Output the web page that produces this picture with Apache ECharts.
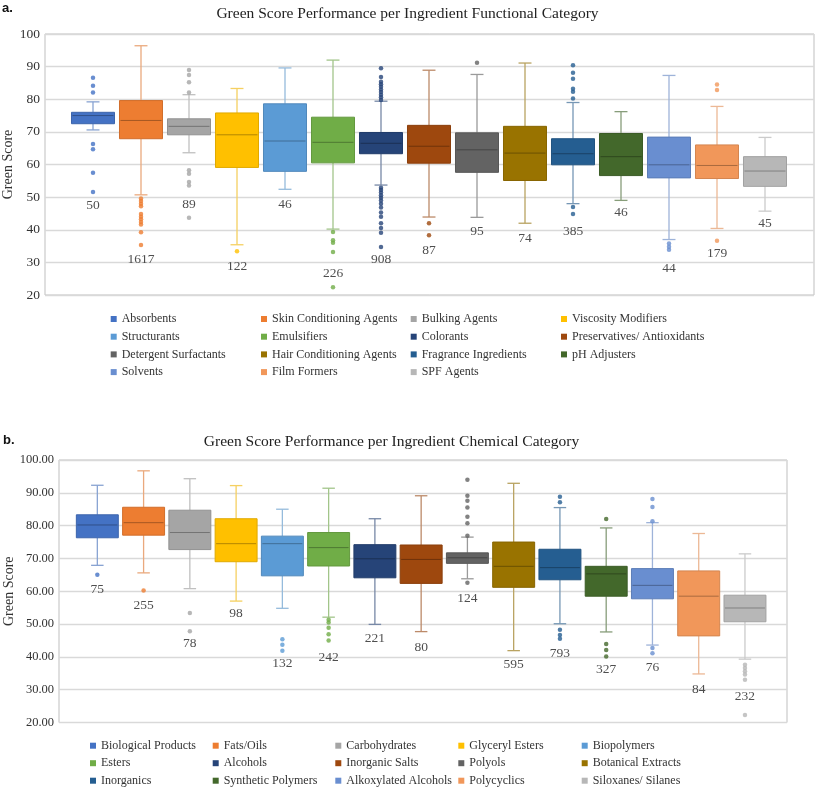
<!DOCTYPE html>
<html><head><meta charset="utf-8">
<script src="https://cdn.jsdelivr.net/npm/echarts@6/dist/echarts.min.js"></script>
<style>html,body{margin:0;padding:0;background:#fff}#c{width:817px;height:789px}</style>
</head><body><div id="c"></div>
<script>
// ---------- DATA ----------
const palette = ['#4472C4','#ED7D31','#A5A5A5','#FFC000','#5B9BD5','#70AD47','#264478','#9E480E','#636363','#997300','#255E91','#43682B','#698ED0','#F1975A','#B7B7B7'];

// Panel a: functional categories
const funcCategories = ['Absorbents','Skin Conditioning Agents','Bulking Agents','Viscosity Modifiers','Structurants','Emulsifiers','Colorants','Preservatives/ Antioxidants','Detergent Surfactants','Hair Conditioning Agents','Fragrance Ingredients','pH Adjusters','Solvents','Film Formers','SPF Agents'];
// [lower whisker, Q1, median, Q3, upper whisker]
const funcStats = [
  [70.6, 72.5, 75.0, 76.0, 79.2],
  [50.7, 67.9, 73.5, 79.6, 96.4],
  [63.6, 69.1, 71.7, 74.0, 81.4],
  [35.4, 59.1, 69.1, 75.8, 83.3],
  [52.4, 57.9, 67.2, 78.6, 89.6],
  [40.2, 60.5, 66.8, 74.5, 92.0],
  [53.7, 63.3, 66.5, 69.8, 79.4],
  [43.9, 60.4, 65.6, 72.0, 88.9],
  [43.8, 57.6, 64.5, 69.7, 87.6],
  [42.0, 55.1, 63.5, 71.7, 91.1],
  [48.0, 59.9, 63.3, 67.9, 79.0],
  [49.0, 56.6, 62.4, 69.5, 76.2],
  [37.0, 55.9, 59.9, 68.4, 87.3],
  [40.4, 55.7, 59.7, 66.0, 77.8],
  [45.7, 53.3, 58.0, 62.4, 68.3]
];
const funcOutliers = [
  [86.6, 84.1, 82.1, 66.3, 64.7, 57.5, 51.6],
  [49.6, 48.8, 48.0, 47.2, 44.8, 44.0, 43.2, 42.4, 41.6, 39.2, 35.3],
  [89.0, 87.4, 85.2, 82.1, 58.2, 57.2, 54.6, 53.6, 43.7],
  [33.4],
  [],
  [39.3, 36.8, 36.0, 33.2, 22.4],
  [89.5, 86.8, 85.4, 84.6, 83.8, 83.0, 82.2, 81.4, 80.6, 79.8, 52.9, 52.2, 51.4, 50.6, 49.8, 49.0, 48.0, 46.8, 45.3, 44.0, 42.0, 40.5, 39.1, 34.7],
  [42.0, 38.3],
  [91.2],
  [],
  [90.4, 88.1, 86.3, 83.2, 82.3, 80.2, 47.0, 44.8],
  [],
  [35.8, 34.8, 33.9],
  [84.5, 82.8, 36.6],
  []
];
const funcCounts = [50, 1617, 89, 122, 46, 226, 908, 87, 95, 74, 385, 46, 44, 179, 45];
const funcCountLabelY = [47.3, 30.9, 47.9, 28.8, 47.9, 26.7, 30.9, 33.8, 39.6, 37.4, 39.6, 45.4, 28.0, 32.7, 42.0];

// Panel b: chemical categories
const chemCategories = ['Biological Products','Fats/Oils','Carbohydrates','Glyceryl Esters','Biopolymers','Esters','Alcohols','Inorganic Salts','Polyols','Botanical Extracts','Inorganics','Synthetic Polymers','Alkoxylated Alcohols','Polycyclics','Siloxanes/ Silanes'];
const chemStats = [
  [67.9, 76.3, 80.2, 83.3, 92.3],
  [65.6, 77.1, 80.9, 85.6, 96.7],
  [60.8, 72.7, 77.9, 84.7, 94.3],
  [57.0, 69.0, 74.5, 82.1, 92.2],
  [54.8, 64.7, 74.5, 76.8, 85.0],
  [52.1, 67.7, 73.3, 77.9, 91.4],
  [49.9, 64.1, 69.9, 74.2, 82.1],
  [47.7, 62.4, 69.7, 74.1, 89.1],
  [63.8, 68.5, 70.2, 71.7, 76.5],
  [41.9, 61.2, 67.6, 75.0, 92.9],
  [50.1, 63.5, 67.2, 72.8, 85.5],
  [47.6, 58.5, 65.3, 67.6, 79.3],
  [43.6, 57.7, 61.8, 66.9, 80.9],
  [34.8, 46.4, 58.5, 66.2, 77.6],
  [39.3, 50.7, 54.9, 58.8, 71.4]
];
const chemOutliers = [
  [65.0],
  [60.2],
  [53.4, 47.8],
  [],
  [45.4, 43.7, 41.9],
  [51.3, 50.5, 48.9, 46.9, 45.0],
  [],
  [],
  [94.0, 89.1, 87.6, 85.5, 82.7, 80.7, 76.9, 62.6],
  [],
  [88.8, 87.1, 48.3, 46.7, 45.5],
  [82.0, 43.9, 42.1, 40.1],
  [88.1, 85.7, 81.3, 42.7, 41.1],
  [],
  [37.6, 36.6, 35.6, 34.6, 33.0, 22.3]
];
const chemCounts = [75, 255, 78, 98, 132, 242, 221, 80, 124, 595, 793, 327, 76, 84, 232];
const chemCountLabelY = [60.5, 55.6, 44.2, 53.1, 38.1, 39.9, 45.7, 42.9, 57.8, 37.8, 41.1, 36.2, 36.8, 30.0, 27.9];

const yMin = 20, yMax = 100, yStep = 10;

// ---------- HELPERS ----------
const SERIF = 'Liberation Serif';
function hexToRgb(h){h=h.replace('#','');return [parseInt(h.slice(0,2),16),parseInt(h.slice(2,4),16),parseInt(h.slice(4,6),16)];}
function mix(a,b,t){const A=hexToRgb(a),B=hexToRgb(b);return 'rgb('+A.map((v,k)=>Math.round(v*(1-t)+B[k]*t)).join(',')+')';}

function boxRenderer(boxRatio, capRatio){
  return function(params, api){
    const i = api.value(0);
    const col = palette[i];
    const pLow = api.coord([i, api.value(1)]);
    const pQ1 = api.coord([i, api.value(2)]);
    const pMed = api.coord([i, api.value(3)]);
    const pQ3 = api.coord([i, api.value(4)]);
    const pHigh = api.coord([i, api.value(5)]);
    const band = api.size([1,0])[0];
    const bw = band*boxRatio, cw = band*capRatio;
    const x = pMed[0];
    const ls = {stroke: mix(col,'#E6E6E6',0.42), lineWidth: 1.3};
    return {type:'group', children:[
      {type:'line', shape:{x1:x,y1:pHigh[1],x2:x,y2:pQ3[1]}, style:ls},
      {type:'line', shape:{x1:x,y1:pQ1[1],x2:x,y2:pLow[1]}, style:ls},
      {type:'line', shape:{x1:x-cw/2,y1:pHigh[1],x2:x+cw/2,y2:pHigh[1]}, style:ls},
      {type:'line', shape:{x1:x-cw/2,y1:pLow[1],x2:x+cw/2,y2:pLow[1]}, style:ls},
      {type:'rect', shape:{x:x-bw/2,y:pQ3[1],width:bw,height:pQ1[1]-pQ3[1]}, style:{fill:col, stroke:mix(col,'#000000',0.12), lineWidth:1}},
      {type:'line', shape:{x1:x-bw/2+1,y1:pMed[1],x2:x+bw/2-1,y2:pMed[1]}, style:{stroke:mix(col,'#000000',0.3), lineWidth:1}}
    ]};
  };
}

function panelSeries(names, stats, outliers, counts, labelY, xi, yi, boxRatio){
  const s = [];
  s.push({type:'custom', xAxisIndex:xi, yAxisIndex:yi, renderItem: boxRenderer(boxRatio, 0.27),
    encode:{x:0, y:[1,2,3,4,5]}, data: stats.map((st,i)=>[i].concat(st)), z:2});
  const od = [];
  outliers.forEach((arr,i)=>arr.forEach(v=>od.push({value:[i,v], itemStyle:{color:palette[i]}})));
  s.push({type:'scatter', xAxisIndex:xi, yAxisIndex:yi, symbol:'circle', symbolSize:4.5, data:od, z:3});
  s.push({type:'scatter', xAxisIndex:xi, yAxisIndex:yi, symbolSize:1, itemStyle:{color:'rgba(0,0,0,0)'},
    data: counts.map((n,i)=>[i, labelY[i]]), z:4,
    label:{show:true, position:'inside', formatter:p=>String(counts[p.dataIndex]), fontFamily:SERIF, fontSize:13.5, color:'#222'}});
  names.forEach((n,i)=>s.push({type:'bar', name:n, data:[], color:palette[i], xAxisIndex:xi, yAxisIndex:yi}));
  return s;
}

function legendCols(names, nCols, lefts, top, pitch){
  const out=[];
  for(let c=0;c<nCols;c++){
    out.push({orient:'vertical', left:lefts[c], top:top, padding:0, itemGap:pitch-12, itemWidth:6, itemHeight:6,
      icon:'rect', selectedMode:false, data:names.filter((_,k)=>k%nCols===c),
      textStyle:{fontFamily:SERIF, fontSize:12, color:'#333', lineHeight:12}});
  }
  return out;
}

const yLabelStyle = (fs, fmt)=>({fontFamily:SERIF, fontSize:fs, color:'#333', margin:5, formatter:fmt});

const option = {
  animation:false,
  backgroundColor:'#fff',
  title:[
    {text:'Green Score Performance per Ingredient Functional Category', left:407.5, textAlign:'center', top:6, padding:0,
      textStyle:{fontFamily:SERIF, fontSize:15.5, fontWeight:'normal', color:'#222'}},
    {text:'Green Score Performance per Ingredient Chemical Category', left:391.5, textAlign:'center', top:434, padding:0,
      textStyle:{fontFamily:SERIF, fontSize:15.5, fontWeight:'normal', color:'#222'}}
  ],
  graphic:[
    {type:'text', left:2, top:2, style:{text:'a.', font:'bold 13px "Liberation Sans"', fill:'#111'}},
    {type:'text', left:3, top:434, style:{text:'b.', font:'bold 13px "Liberation Sans"', fill:'#111'}}
  ],
  grid:[
    {left:45, top:34, width:769, height:261, show:true, borderColor:'#BFBFBF', borderWidth:1, outerBoundsMode:'none', containLabel:false},
    {left:69, top:34, width:720, height:261, outerBoundsMode:'none', containLabel:false},
    {left:59, top:460, width:728, height:262.5, show:true, borderColor:'#BFBFBF', borderWidth:1, outerBoundsMode:'none', containLabel:false},
    {left:74.2, top:460, width:693.9, height:262.5, outerBoundsMode:'none', containLabel:false}
  ],
  xAxis:[
    {gridIndex:0, type:'value', min:0, max:1, show:false},
    {gridIndex:1, type:'category', data:funcCategories, show:false},
    {gridIndex:2, type:'value', min:0, max:1, show:false},
    {gridIndex:3, type:'category', data:chemCategories, show:false}
  ],
  yAxis:[
    {gridIndex:0, type:'value', min:yMin, max:yMax, interval:yStep, name:'Green Score', nameLocation:'middle', nameGap:30, nameRotate:90, nameMoveOverlap:false,
      nameTextStyle:{fontFamily:SERIF, fontSize:14, color:'#333'},
      axisLine:{show:false}, axisTick:{show:false}, axisLabel:yLabelStyle(13.5, v=>String(v)),
      splitLine:{lineStyle:{color:'#D9D9D9', width:1.3}}},
    {gridIndex:1, type:'value', min:yMin, max:yMax, show:false, splitLine:{show:false}},
    {gridIndex:2, type:'value', min:yMin, max:yMax, interval:yStep, name:'Green Score', nameLocation:'middle', nameGap:43, nameRotate:90, nameMoveOverlap:false,
      nameTextStyle:{fontFamily:SERIF, fontSize:14, color:'#333'},
      axisLine:{show:false}, axisTick:{show:false}, axisLabel:yLabelStyle(12.5, v=>v.toFixed(2)),
      splitLine:{lineStyle:{color:'#D9D9D9', width:1.3}}},
    {gridIndex:3, type:'value', min:yMin, max:yMax, show:false, splitLine:{show:false}}
  ],
  legend: legendCols(funcCategories, 4, [110.7, 261, 410.7, 561], 313, 17.7)
    .concat(legendCols(chemCategories, 5, [90, 212.7, 335.3, 458.3, 581.7], 739.7, 17.5)),
  series: panelSeries(funcCategories, funcStats, funcOutliers, funcCounts, funcCountLabelY, 1, 1, 0.896)
    .concat(panelSeries(chemCategories, chemStats, chemOutliers, chemCounts, chemCountLabelY, 3, 3, 0.907))
};

const chart = echarts.init(document.getElementById('c'), null, {renderer:'canvas', width:817, height:789});
chart.setOption(option);
</script>
</body></html>
